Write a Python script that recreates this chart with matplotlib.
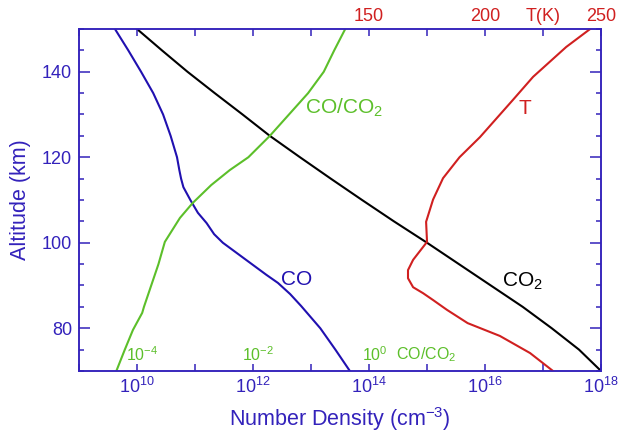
import matplotlib
matplotlib.use("Agg")
import numpy as np
from matplotlib import pyplot as plt
from matplotlib.ticker import FixedLocator, MultipleLocator, NullLocator

plt.rcParams['font.family'] = ['Liberation Sans', 'DejaVu Sans']
plt.rcParams['mathtext.fontset'] = 'custom'
plt.rcParams['mathtext.rm'] = 'Liberation Sans'
plt.rcParams['mathtext.it'] = 'Liberation Sans:italic'
plt.rcParams['mathtext.bf'] = 'Liberation Sans:bold'

# Profiles: log10 number density (cm^-3) vs altitude (km)
alt_co2 = [150, 145, 140, 135, 130, 125, 120, 115, 110, 105, 100, 95, 90, 85, 80, 75, 70]
logn_co2 = [10.0, 10.43, 10.87, 11.34, 11.82, 12.29, 12.81, 13.34, 13.88, 14.43, 15.0,
            15.55, 16.1, 16.65, 17.15, 17.62, 18.0]

alt_co = [150, 145, 140, 135, 130, 125, 120, 117, 115, 113, 110, 107, 104.6, 102, 100,
          97, 95, 92.5, 90.6, 88, 85.2, 80, 75, 70]
logn_co = [9.62, 9.85, 10.07, 10.28, 10.45, 10.58, 10.69, 10.73, 10.76, 10.80, 10.92,
           11.05, 11.2, 11.33, 11.48, 11.78, 11.98, 12.23, 12.43, 12.64, 12.83, 13.16,
           13.42, 13.67]

# CO/CO2 mixing ratio (log10)
alt_ratio = [150, 145, 140, 135, 130, 125, 120, 117, 113.5, 109.3, 105.8, 100.2, 95,
             90.6, 85, 83.6, 79.6, 75, 70.2]
logratio = [-0.41, -0.60, -0.78, -1.05, -1.38, -1.71, -2.08, -2.40, -2.72, -3.04, -3.26,
            -3.52, -3.63, -3.74, -3.88, -3.91, -4.07, -4.21, -4.35]
ratio_shift = 1e14  # ratio 1 sits at 1e14 on the density axis

# Temperature profile
alt_t = [150, 145.8, 138.8, 133.4, 124.7, 120, 115.1, 110.1, 104.9, 100.2, 96, 93.6,
         91.7, 89.6, 88.2, 86.6, 84.3, 81.2, 78.2, 74.2, 70]
temp = [245.3, 235, 220.7, 212, 197.8, 189, 181.9, 177.6, 174.6, 175, 169, 166.8,
        166.8, 169, 173.3, 177.6, 183.6, 192.5, 206.4, 219.4, 229.3]

axis_blue = '#3322BB'
co_blue = '#2010B0'
green = '#5CBF2A'
red = '#D02020'

fig = plt.figure(figsize=(6.19, 4.32), dpi=100)
ax = fig.add_axes([0.1276, 0.1412, 0.8434, 0.7917])

ax.plot(10**np.array(logn_co2), alt_co2, color='black', lw=1.5)
ax.plot(10**np.array(logn_co), alt_co, color=co_blue, lw=1.5)
ax.plot(ratio_shift * 10**np.array(logratio), alt_ratio, color=green, lw=1.5)

ax.set_xscale('log')
ax.set_xlim(1e9, 1e18)
ax.set_ylim(70, 150)

decades = np.arange(9, 19)
ax.xaxis.set_major_locator(FixedLocator(10.0**decades))
ax.xaxis.set_minor_locator(NullLocator())
ax.set_xticklabels([r'$\mathregular{10^{%d}}$' % d if d % 2 == 0 else '' for d in decades])
ax.yaxis.set_major_locator(MultipleLocator(20))
ax.yaxis.set_minor_locator(MultipleLocator(5))

ax.tick_params(axis='x', which='both', direction='in', length=5, width=1.1,
               color=axis_blue, labelcolor=axis_blue, labelsize=13, pad=4, top=False)
ax.tick_params(axis='y', which='major', direction='in', length=8, width=1.1,
               color=axis_blue, labelcolor=axis_blue, labelsize=13, pad=5, right=True)
ax.tick_params(axis='y', which='minor', direction='in', length=3.6, width=1.1,
               color=axis_blue, right=True)

ax.set_xlabel(r'Number Density (cm$^{\mathregular{-3}}$)', color=axis_blue, fontsize=15.5,
              labelpad=6)
ax.set_ylabel('Altitude (km)', color=axis_blue, fontsize=15.5, labelpad=8)

# Temperature on the top axis
ax2 = ax.twiny()
ax2.plot(temp, alt_t, color=red, lw=1.5)
ax2.set_xlim(25, 250)
t_ticks = np.arange(25, 251, 25)
ax2.xaxis.set_major_locator(FixedLocator(t_ticks))
ax2.set_xticklabels([{150: '150', 200: '200', 225: 'T(K)', 250: '250'}.get(t, '')
                     for t in t_ticks])
ax2.tick_params(axis='x', direction='in', length=5, width=1.1, color=axis_blue,
                labelcolor=red, labelsize=13, pad=3)

for a in (ax, ax2):
    for s in a.spines.values():
        s.set_color(axis_blue)
        s.set_linewidth(1.1)

# Curve labels
ax.text(10**12.9, 131.5, r'CO/CO$_\mathregular{2}$', color=green, fontsize=15, va='center')
ax.text(10**12.76, 91.3, 'CO', color=co_blue, fontsize=15, ha='center', va='center')
ax.text(10**16.29, 91.0, r'CO$_\mathregular{2}$', color='black', fontsize=15, va='center')
ax2.text(217, 131.5, 'T', color=red, fontsize=15, ha='center', va='center')

# Mixing-ratio scale along the bottom
for lr in (-4, -2, 0):
    ax.annotate(r'$\mathregular{10^{%d}}$' % lr, (ratio_shift * 10.0**lr, 73.8),
                xytext=(4, 0), textcoords='offset points', color=green,
                fontsize=11.5, ha='center', va='center')
ax.text(10**14.47, 73.8, r'CO/CO$_\mathregular{2}$', color=green, fontsize=11.5,
        va='center')

plt.savefig("out.png", dpi=100)
